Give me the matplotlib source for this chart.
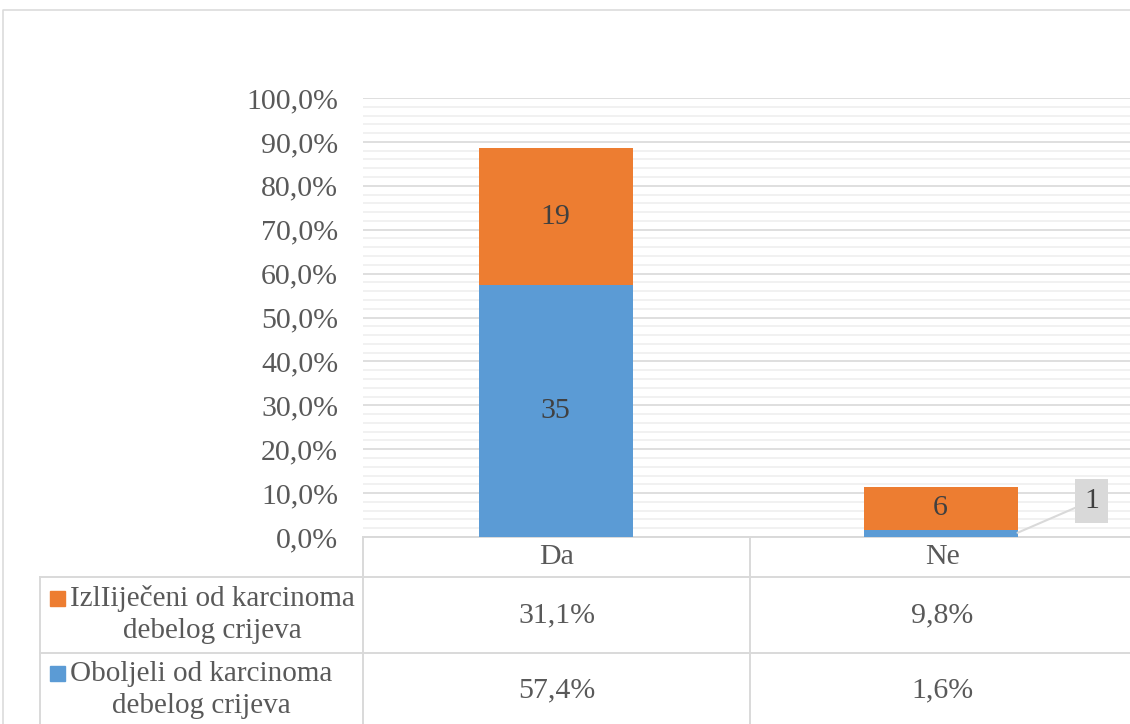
import matplotlib
matplotlib.use("Agg")
import matplotlib.pyplot as plt
import numpy as np

categories = ["Da", "Ne"]
series_names = ["IzlIiječeni od karcinoma\ndebelog crijeva",
                "Oboljeli od karcinoma\ndebelog crijeva"]
oboljeli_pct = [57.4, 1.6]
izlijeceni_pct = [31.1, 9.8]
oboljeli_counts = ["35", "1"]
izlijeceni_counts = ["19", "6"]

BLUE = "#5B9BD5"
ORANGE = "#ED7D31"
TXT = "#595959"
LBL = "#404040"
GRID = "#D9D9D9"
MINOR = "#EFEFEF"
FONT = "Liberation Serif"
FS = 21.5

plt.rcParams["font.family"] = [FONT, "DejaVu Serif"]

W, H = 1130, 724
fig = plt.figure(figsize=(W / 100, H / 100), dpi=100)

# background / table layer in pixel coordinates
bg = fig.add_axes([0, 0, 1, 1])
bg.set_xlim(0, W)
bg.set_ylim(H, 0)
bg.axis("off")

# outer chart border
bg.plot([3, 3, W], [H, 10, 10], color=GRID, lw=1.1)
# table lines
bg.plot([363, W], [537, 537], color=GRID, lw=1.4)
bg.plot([40, W], [577, 577], color=GRID, lw=1.4)
bg.plot([40, W], [653, 653], color=GRID, lw=1.4)
for x, y0 in [(363, 537), (750, 537), (40, 577)]:
    bg.plot([x, x], [y0, H], color=GRID, lw=1.4)

# bar axes
left, right = 363, 1133
top, bottom = 98, 537
ax = fig.add_axes([left / W, (H - bottom) / H, (right - left) / W, (bottom - top) / H])
ax.set_facecolor("none")
x = np.arange(len(categories))
ax.bar(x, oboljeli_pct, width=0.4, color=BLUE, zorder=3)
ax.bar(x, izlijeceni_pct, width=0.4, bottom=oboljeli_pct, color=ORANGE, zorder=3)
ax.set_xlim(-0.5, 1.5)
ax.set_ylim(0, 100)
ax.set_yticks(np.arange(0, 101, 10))
ax.set_yticklabels([f"{v:.1f}%".replace(".", ",") for v in np.arange(0, 101, 10)],
                   fontsize=FS, color=TXT)
ax.set_yticks(np.arange(0, 101, 2), minor=True)
ax.tick_params(axis="y", which="both", length=0, pad=18)
ax.set_xticks([])
ax.grid(axis="y", which="minor", color=MINOR, lw=1.2, zorder=0)
ax.grid(axis="y", which="major", color=GRID, lw=1.2, zorder=1)
for s in ax.spines.values():
    s.set_visible(False)

# data labels
for i in range(len(categories)):
    ob, iz = oboljeli_pct[i], izlijeceni_pct[i]
    if ob > 5:
        ax.text(x[i], ob / 2, oboljeli_counts[i], ha="center", va="center",
                fontsize=FS, color=LBL, zorder=5)
    else:
        ax.annotate(oboljeli_counts[i], xy=(x[i] + 0.2, ob * 0.6), xytext=(74, 32),
                    textcoords="offset pixels", ha="center", va="center",
                    fontsize=FS, color=LBL, zorder=5,
                    bbox=dict(boxstyle="square,pad=0.3", fc="#D9D9D9", ec="none"),
                    arrowprops=dict(arrowstyle="-", color="#D9D9D9", lw=1.5,
                                    shrinkA=0, shrinkB=0))
    ax.text(x[i], ob + iz / 2, izlijeceni_counts[i], ha="center", va="center",
            fontsize=FS, color=LBL, zorder=5)

# table text
col_centers = [557, 942]
for cx, cat in zip(col_centers, categories):
    bg.text(cx, 557, cat, ha="center", va="center", fontsize=FS, color=TXT)

rows = [(series_names[0], ORANGE, izlijeceni_pct, 615),
        (series_names[1], BLUE, oboljeli_pct, 690)]
for name, col, vals, yc in rows:
    bg.add_patch(plt.Rectangle((50, yc - 24), 15, 15, color=col))
    bg.text(70, yc, name, ha="left", va="center", multialignment="center",
            fontsize=21, color=TXT, linespacing=1.3)
    for cx, v in zip(col_centers, vals):
        bg.text(cx, yc, f"{v:.1f}%".replace(".", ","), ha="center", va="center",
                fontsize=FS, color=TXT)

fig.savefig("out.png", dpi=100)
